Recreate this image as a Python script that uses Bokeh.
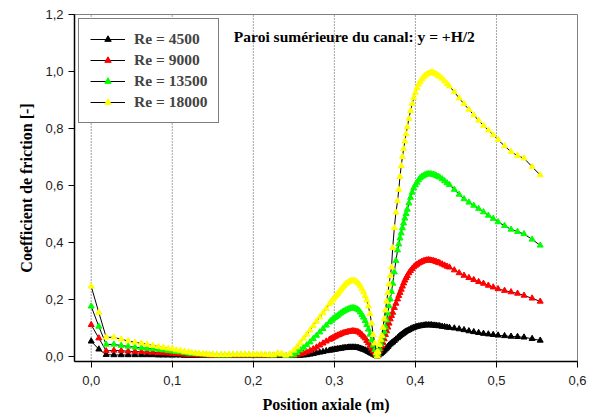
from bokeh.plotting import figure
from bokeh.models import Range1d, FixedTicker, Label
from bokeh.embed import file_html
from bokeh.resources import INLINE

# Axial positions (m), shared mesh of the four series
x_pos = [
    0.0, 0.0094, 0.0185, 0.028, 0.037, 0.0456, 0.054, 0.062, 0.069, 0.076,
    0.083, 0.089, 0.095, 0.100, 0.105, 0.110, 0.115, 0.120, 0.124, 0.129,
    0.133, 0.138, 0.142, 0.146, 0.150, 0.155, 0.160, 0.165, 0.170, 0.175,
    0.180, 0.185, 0.190, 0.195, 0.200, 0.205, 0.210, 0.215, 0.220, 0.225,
    0.230, 0.235, 0.240, 0.245,
    0.250, 0.254, 0.258, 0.262, 0.266, 0.270, 0.274, 0.278, 0.282, 0.286,
    0.290, 0.294,
    0.296, 0.298, 0.300, 0.302, 0.304, 0.306, 0.308, 0.310, 0.312, 0.314,
    0.316, 0.318, 0.320, 0.322, 0.324, 0.326, 0.328, 0.330, 0.332, 0.334,
    0.336, 0.338, 0.340, 0.342, 0.344, 0.346, 0.348, 0.350, 0.352, 0.353,
    0.354, 0.3555, 0.357, 0.3585, 0.360, 0.3615, 0.363, 0.3645, 0.366, 0.3675,
    0.369, 0.3705, 0.372, 0.374, 0.376, 0.378,
    0.3795, 0.381, 0.3825, 0.384, 0.3855, 0.387, 0.3885, 0.390, 0.392, 0.394,
    0.396, 0.398, 0.400, 0.402, 0.404, 0.406, 0.408, 0.410, 0.412, 0.414,
    0.416, 0.418, 0.420, 0.422, 0.424, 0.426, 0.428, 0.430, 0.433, 0.436,
    0.439, 0.442,
    0.448, 0.454, 0.460, 0.466, 0.472, 0.478, 0.484, 0.490, 0.496, 0.502,
    0.510, 0.518, 0.526, 0.534, 0.544, 0.554,
]

cf_re4500 = [
    0.052, 0.024, 0.005, 0.004, 0.004, 0.004, 0.004, 0.004, 0.004, 0.004,
    0.003, 0.003, 0.003, 0.003, 0.003, 0.003, 0.002, 0.002, 0.002, 0.002,
    0.002, 0.002, 0.001, 0.001, 0.001, 0.001, 0.001, 0.001, 0.001, 0.001,
    0.001, 0.001, 0.001, 0.001, 0.001, 0.001, 0.001, 0.001, 0.001, 0.001,
    0.001, 0.001, 0.001, 0.001,
    0.001, 0.001, 0.002, 0.003, 0.004, 0.006, 0.008, 0.011, 0.013, 0.015,
    0.018, 0.020,
    0.021, 0.022, 0.023, 0.024, 0.025, 0.026, 0.027, 0.028, 0.029, 0.029,
    0.030, 0.031, 0.031, 0.031, 0.031, 0.031, 0.030, 0.029, 0.027, 0.025,
    0.023, 0.021, 0.018, 0.015, 0.012, 0.009, 0.006, 0.003, 0.001, 0.000,
    0.002, 0.006, 0.008, 0.012, 0.016, 0.020, 0.024, 0.028, 0.033, 0.038,
    0.042, 0.046, 0.049, 0.054, 0.059, 0.064,
    0.068, 0.072, 0.075, 0.078, 0.081, 0.084, 0.087, 0.089, 0.092, 0.095,
    0.098, 0.100, 0.102, 0.104, 0.105, 0.106, 0.107, 0.108, 0.109, 0.109,
    0.109, 0.109, 0.109, 0.108, 0.108, 0.107, 0.106, 0.106, 0.104, 0.103,
    0.101, 0.100,
    0.098, 0.095, 0.092, 0.088, 0.085, 0.082, 0.079, 0.077, 0.075, 0.073,
    0.071, 0.069, 0.068, 0.066, 0.061, 0.055,
]

cf_re9000 = [
    0.110, 0.063, 0.018, 0.020, 0.019, 0.017, 0.016, 0.015, 0.014, 0.013,
    0.012, 0.011, 0.010, 0.009, 0.008, 0.007, 0.006, 0.005, 0.005, 0.004,
    0.004, 0.003, 0.003, 0.002, 0.002, 0.002, 0.002, 0.002, 0.002, 0.002,
    0.002, 0.002, 0.002, 0.002, 0.002, 0.002, 0.002, 0.002, 0.002, 0.002,
    0.003, 0.003, 0.002, 0.002,
    0.002, 0.004, 0.007, 0.010, 0.014, 0.019, 0.025, 0.031, 0.038, 0.045,
    0.052, 0.058,
    0.061, 0.064, 0.067, 0.070, 0.073, 0.075, 0.078, 0.080, 0.082, 0.083,
    0.085, 0.086, 0.087, 0.088, 0.088, 0.087, 0.086, 0.084, 0.080, 0.075,
    0.069, 0.063, 0.054, 0.046, 0.037, 0.027, 0.018, 0.010, 0.003, 0.000,
    0.005, 0.018, 0.025, 0.036, 0.047, 0.060, 0.075, 0.088, 0.101, 0.115,
    0.130, 0.142, 0.153, 0.170, 0.185, 0.200,
    0.212, 0.223, 0.234, 0.245, 0.256, 0.266, 0.275, 0.282, 0.292, 0.300,
    0.307, 0.313, 0.318, 0.322, 0.326, 0.329, 0.332, 0.334, 0.336, 0.337,
    0.338, 0.337, 0.336, 0.335, 0.333, 0.331, 0.329, 0.327, 0.323, 0.319,
    0.315, 0.312,
    0.302, 0.292, 0.283, 0.275, 0.268, 0.261, 0.255, 0.248, 0.242, 0.236,
    0.230, 0.225, 0.220, 0.213, 0.203, 0.192,
]

cf_re13500 = [
    0.175, 0.104, 0.041, 0.041, 0.037, 0.034, 0.031, 0.029, 0.027, 0.025,
    0.023, 0.021, 0.019, 0.017, 0.015, 0.014, 0.012, 0.010, 0.009, 0.008,
    0.007, 0.006, 0.005, 0.004, 0.004, 0.003, 0.003, 0.003, 0.003, 0.004,
    0.004, 0.004, 0.004, 0.004, 0.004, 0.004, 0.004, 0.004, 0.003, 0.003,
    0.006, 0.005, 0.002, 0.003,
    0.004, 0.012, 0.021, 0.030, 0.039, 0.049, 0.061, 0.072, 0.084, 0.096,
    0.108, 0.119,
    0.125, 0.130, 0.134, 0.138, 0.142, 0.147, 0.151, 0.155, 0.158, 0.161,
    0.164, 0.166, 0.168, 0.169, 0.169, 0.167, 0.165, 0.161, 0.154, 0.145,
    0.136, 0.124, 0.110, 0.094, 0.076, 0.056, 0.038, 0.022, 0.006, 0.000,
    0.008, 0.025, 0.044, 0.056, 0.070, 0.086, 0.102, 0.126, 0.150, 0.176,
    0.200, 0.226, 0.255, 0.295, 0.335, 0.372,
    0.393, 0.414, 0.432, 0.450, 0.467, 0.484, 0.500, 0.515, 0.537, 0.557,
    0.575, 0.590, 0.601, 0.610, 0.619, 0.626, 0.631, 0.634, 0.637, 0.639,
    0.640, 0.640, 0.639, 0.638, 0.636, 0.633, 0.631, 0.628, 0.622, 0.615,
    0.608, 0.602,
    0.585, 0.568, 0.552, 0.540, 0.529, 0.518, 0.506, 0.494, 0.483, 0.471,
    0.458, 0.445, 0.437, 0.429, 0.410, 0.389,
]

cf_re18000 = [
    0.245, 0.153, 0.066, 0.066, 0.059, 0.053, 0.048, 0.045, 0.041, 0.037,
    0.033, 0.030, 0.027, 0.025, 0.021, 0.019, 0.016, 0.014, 0.012, 0.010,
    0.009, 0.008, 0.007, 0.006, 0.005, 0.005, 0.005, 0.005, 0.005, 0.006,
    0.006, 0.006, 0.006, 0.006, 0.006, 0.006, 0.006, 0.005, 0.005, 0.004,
    0.010, 0.008, 0.003, 0.008,
    0.020, 0.032, 0.047, 0.062, 0.076, 0.091, 0.106, 0.122, 0.137, 0.152,
    0.167, 0.183,
    0.190, 0.198, 0.205, 0.212, 0.219, 0.226, 0.233, 0.240, 0.247, 0.254,
    0.258, 0.262, 0.264, 0.265, 0.265, 0.263, 0.260, 0.254, 0.246, 0.236,
    0.225, 0.211, 0.196, 0.175, 0.148, 0.115, 0.075, 0.045, 0.012, 0.000,
    0.015, 0.040, 0.058, 0.072, 0.100, 0.130, 0.161, 0.192, 0.222, 0.252,
    0.282, 0.312, 0.380, 0.450, 0.505, 0.545,
    0.585, 0.630, 0.668, 0.700, 0.728, 0.755, 0.780, 0.805, 0.834, 0.862,
    0.886, 0.908, 0.926, 0.942, 0.955, 0.965, 0.973, 0.980, 0.986, 0.990,
    0.993, 0.995, 0.996, 0.996, 0.993, 0.990, 0.986, 0.982, 0.975, 0.966,
    0.957, 0.948,
    0.928, 0.906, 0.886, 0.866, 0.847, 0.828, 0.810, 0.793, 0.777, 0.760,
    0.738, 0.718, 0.704, 0.695, 0.665, 0.636,
]

series_labels = ["Re = 4500", "Re = 9000", "Re = 13500", "Re = 18000"]
series_colors = ["#000000", "#ff0000", "#00ff00", "#ffff00"]
series_values = [cf_re4500, cf_re9000, cf_re13500, cf_re18000]

x_ticks = [0.0, 0.1, 0.2, 0.3, 0.4, 0.5, 0.6]
x_tick_labels = ["0,0", "0,1", "0,2", "0,3", "0,4", "0,5", "0,6"]
y_ticks = [0.0, 0.2, 0.4, 0.6, 0.8, 1.0, 1.2]
y_tick_labels = ["0,0", "0,2", "0,4", "0,6", "0,8", "1,0", "1,2"]
grid_x = [0.0, 0.1, 0.2, 0.3, 0.4, 0.5]

annotation_text = "Paroi sumérieure du canal: y = +H/2"
x_title = "Position axiale (m)"
y_title = "Coefficient de friction [-]"

for v in series_values:
    assert len(v) == len(x_pos), (len(v), len(x_pos))

p = figure(width=602, height=417, output_backend="svg", toolbar_location=None,
           x_range=Range1d(-0.0206, 0.6), y_range=Range1d(-0.019, 1.2),
           min_border_left=74, min_border_right=25, min_border_top=14,
           min_border_bottom=56)
p.background_fill_color = "white"
p.border_fill_color = "white"
p.outline_line_color = "#808080"
p.outline_line_width = 1

p.xgrid.grid_line_color = None
p.ygrid.grid_line_color = None

# vertical dotted reference lines
for gx in grid_x:
    p.line([gx, gx], [-0.019, 1.2], line_color="#444444", line_width=1,
           line_dash="1 2")

for vals, lab, col in zip(series_values, series_labels, series_colors):
    p.line(x_pos, vals, line_color="black", line_width=1, legend_label=lab)
    p.scatter(x_pos, vals, marker="triangle", size=6, fill_color=col,
              line_color=col, legend_label=lab)

# axes
for ax in (p.xaxis[0], p.yaxis[0]):
    ax.axis_line_color = "black"
    ax.axis_line_width = 1.5
    ax.major_tick_line_color = "black"
    ax.major_tick_out = 6
    ax.major_tick_in = 0
    ax.minor_tick_line_color = None
    ax.major_label_text_font = "Liberation Sans"
    ax.major_label_text_font_size = "13px"
    ax.major_label_text_color = "#222222"
    ax.axis_label_text_font = "Liberation Serif"
    ax.axis_label_text_font_style = "bold"
    ax.axis_label_text_font_size = "16px"
    ax.axis_label_text_color = "black"

p.xaxis.ticker = FixedTicker(ticks=x_ticks)
p.yaxis.ticker = FixedTicker(ticks=y_ticks)
p.xaxis.major_label_overrides = dict(zip(x_ticks, x_tick_labels))
p.yaxis.major_label_overrides = dict(zip(y_ticks, y_tick_labels))
p.xaxis.axis_label = x_title
p.yaxis.axis_label = y_title
p.xaxis.major_label_standoff = 8
p.yaxis.major_label_standoff = 5
p.xaxis.axis_label_standoff = 8
p.yaxis.axis_label_standoff = 7

p.add_layout(Label(x=0.176, y=1.121, text=annotation_text,
                   text_font="Liberation Serif", text_font_style="bold",
                   text_font_size="15.5px", text_baseline="middle",
                   text_color="black"))

lg = p.legend[0]
lg.location = "top_left"
lg.margin = 4
lg.padding = 11
lg.spacing = 3
lg.glyph_width = 35
lg.glyph_height = 16
lg.label_height = 16
lg.label_standoff = 9
lg.label_text_font = "Liberation Serif"
lg.label_text_font_style = "bold"
lg.label_text_font_size = "15.5px"
lg.border_line_color = "black"
lg.border_line_width = 1
lg.background_fill_color = "white"
lg.background_fill_alpha = 1

open("out.html", "w").write(file_html(p, INLINE))
